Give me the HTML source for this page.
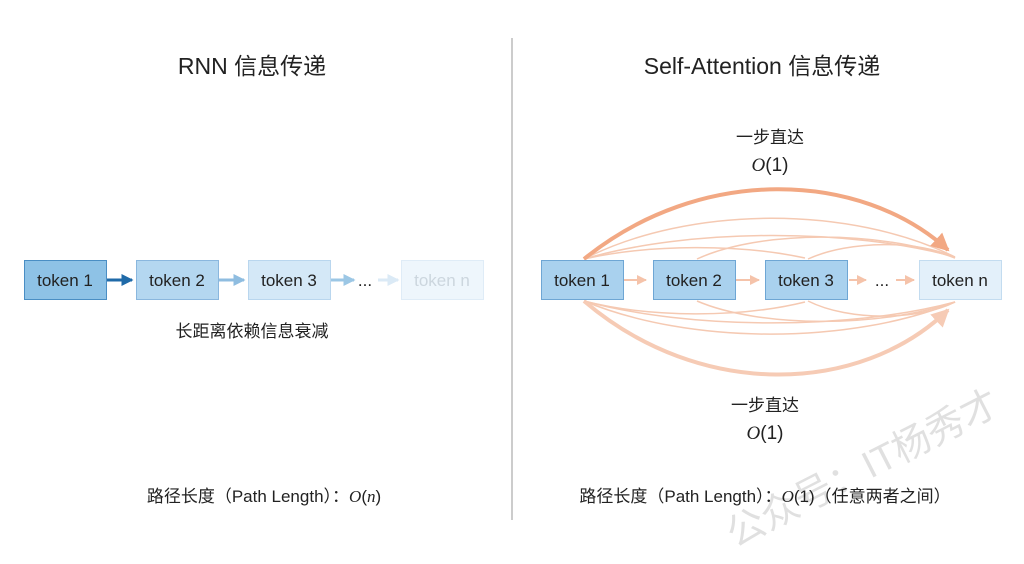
<!DOCTYPE html>
<html><head><meta charset="utf-8"><style>
html,body{margin:0;padding:0;background:#fff;}
svg text{font-family:"Liberation Sans","Noto Sans CJK SC",sans-serif;}
.m{font-family:"Liberation Serif",serif;font-style:italic;}
</style></head><body>
<svg width="1024" height="559" viewBox="0 0 1024 559" xmlns="http://www.w3.org/2000/svg">
<defs>
<marker id="ab" markerWidth="4" markerHeight="4" refX="3.5" refY="2" orient="auto" markerUnits="strokeWidth"><path d="M0,0L4,2L0,4z" fill="context-stroke"/></marker>
<marker id="ao" markerWidth="4.5" markerHeight="4.5" refX="4" refY="2.25" orient="auto" markerUnits="strokeWidth"><path d="M0,0L4.5,2.25L0,4.5z" fill="#f2a883"/></marker>
<marker id="ao3" markerWidth="4.5" markerHeight="4.5" refX="4" refY="2.25" orient="auto" markerUnits="strokeWidth"><path d="M0,0L4.5,2.25L0,4.5z" fill="#f6cbb5"/></marker>
<marker id="ao2" markerWidth="5" markerHeight="5" refX="4.5" refY="2.5" orient="auto" markerUnits="strokeWidth"><path d="M0,0L5,2.5L0,5z" fill="#f5c3aa"/></marker>
</defs>
<line x1="512" y1="38" x2="512" y2="520" stroke="#999" stroke-width="1"/>
<text x="252" y="74" font-size="23" text-anchor="middle" fill="#222">RNN 信息传递</text>
<text x="762" y="74" font-size="23" text-anchor="middle" fill="#222">Self-Attention 信息传递</text>

<rect x="24.5" y="260.5" width="82" height="39" fill="#8ec2e6" stroke="#4a8ec4"/>
<rect x="136.5" y="260.5" width="82" height="39" fill="#b4d7f0" stroke="#8ab7de"/>
<rect x="248.5" y="260.5" width="82" height="39" fill="#d4e8f7" stroke="#b9d6ee"/>
<rect x="401.5" y="260.5" width="82" height="39" fill="#eef6fc" stroke="#dfecf7"/>
<text x="65" y="286" font-size="17" text-anchor="middle" fill="#222">token 1</text>
<text x="177" y="286" font-size="17" text-anchor="middle" fill="#222">token 2</text>
<text x="289" y="286" font-size="17" text-anchor="middle" fill="#222">token 3</text>
<text x="442" y="286" font-size="17" text-anchor="middle" fill="#ccd6de">token n</text>
<text x="365" y="286" font-size="17" text-anchor="middle" fill="#222">...</text>
<line x1="107" y1="280" x2="132" y2="280" stroke="#1f6aa8" stroke-width="3" marker-end="url(#ab)"/>
<line x1="219" y1="280" x2="244" y2="280" stroke="#8fbde0" stroke-width="3" marker-end="url(#ab)"/>
<line x1="331" y1="280" x2="354" y2="280" stroke="#9cc7e5" stroke-width="3" marker-end="url(#ab)"/>
<line x1="378" y1="280" x2="398" y2="280" stroke="#dbeaf6" stroke-width="3" marker-end="url(#ab)"/>
<text x="252" y="337" font-size="17" text-anchor="middle" fill="#222">长距离依赖信息衰减</text>
<text x="264" y="502" font-size="17" text-anchor="middle" fill="#222">路径长度（Path Length）：<tspan class="m">O</tspan>(<tspan class="m">n</tspan>)</text>

<g fill="none" stroke="#f5c9b2" stroke-width="1.5">
<path d="M584,259 C690,205 850,205 955,257"/>
<path d="M584,259 C690,228 850,228 955,257"/>
<path d="M584,259 C650,244 740,244 805,258"/>
<path d="M697,259 C760,230 880,230 955,258"/>
<path d="M808,259 C850,240 920,240 955,258"/>
<path d="M584,301 C690,345 850,345 955,302"/>
<path d="M584,301 C690,330 850,330 955,302"/>
<path d="M584,301 C650,318 740,318 805,302"/>
<path d="M697,301 C760,328 880,328 955,302"/>
<path d="M808,301 C850,322 920,320 955,302"/>
</g>
<path d="M584,259 C700,165 860,170 948,250" fill="none" stroke="#f2a883" stroke-width="4" marker-end="url(#ao)"/>
<path d="M584,301 C700,400 860,395 948,310" fill="none" stroke="#f6cbb5" stroke-width="4" marker-end="url(#ao3)"/>
<line x1="624" y1="280" x2="646" y2="280" stroke="#f5c3aa" stroke-width="2" marker-end="url(#ao2)"/>
<line x1="736" y1="280" x2="759" y2="280" stroke="#f5c3aa" stroke-width="2" marker-end="url(#ao2)"/>
<line x1="849" y1="280" x2="866" y2="280" stroke="#f5c3aa" stroke-width="2" marker-end="url(#ao2)"/>
<line x1="896" y1="280" x2="914" y2="280" stroke="#f5c3aa" stroke-width="2" marker-end="url(#ao2)"/>
<rect x="541.5" y="260.5" width="82" height="39" fill="#a9d1ee" stroke="#6ea6d4"/>
<rect x="653.5" y="260.5" width="82" height="39" fill="#a9d1ee" stroke="#6ea6d4"/>
<rect x="765.5" y="260.5" width="82" height="39" fill="#a9d1ee" stroke="#6ea6d4"/>
<rect x="919.5" y="260.5" width="82" height="39" fill="#e3f0fa" stroke="#c3dcf0"/>
<text x="582" y="286" font-size="17" text-anchor="middle" fill="#222">token 1</text>
<text x="694" y="286" font-size="17" text-anchor="middle" fill="#222">token 2</text>
<text x="806" y="286" font-size="17" text-anchor="middle" fill="#222">token 3</text>
<text x="960" y="286" font-size="17" text-anchor="middle" fill="#222">token n</text>
<text x="882" y="286" font-size="17" text-anchor="middle" fill="#222">...</text>
<text x="770" y="143" font-size="17" text-anchor="middle" fill="#222">一步直达</text>
<text x="770" y="171" font-size="19" text-anchor="middle" fill="#222"><tspan class="m">O</tspan>(1)</text>
<text x="765" y="411" font-size="17" text-anchor="middle" fill="#222">一步直达</text>
<text x="765" y="439" font-size="19" text-anchor="middle" fill="#222"><tspan class="m">O</tspan>(1)</text>
<text x="765" y="502" font-size="17" text-anchor="middle" fill="#222">路径长度（Path Length）：<tspan class="m">O</tspan>(1)（任意两者之间）</text>
<text x="735" y="548" font-size="38" fill="#000" fill-opacity="0.12" transform="rotate(-27 735 548)">公众号：IT杨秀才</text>
</svg>
</body></html>
